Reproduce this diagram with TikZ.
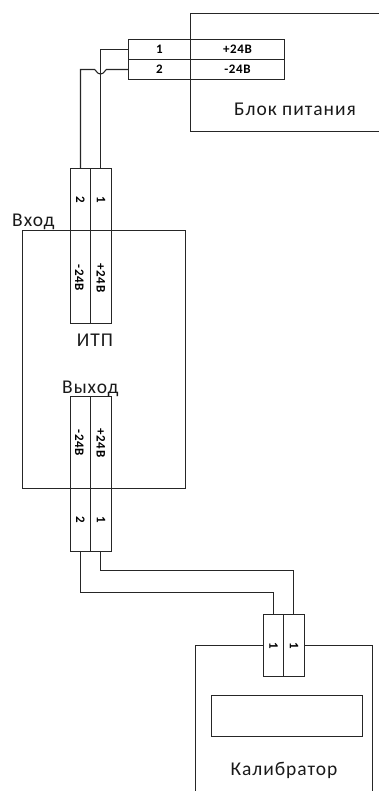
\documentclass[tikz,border=0pt]{standalone}
\usepackage{fontspec}
\setmainfont{Carlito}
\newfontfamily\labfont[LetterSpace=5]{Carlito}
\newfontfamily\pinfont[LetterSpace=5]{Carlito}[BoldFont={Carlito Bold}]
\tikzset{
  ln/.style={line width=1.1pt,draw=black!85},
  cell/.style={ln,rectangle,inner sep=0pt,outer sep=0pt,anchor=north west,font=\pinfont\bfseries\fontsize{13}{15}\selectfont},
  lab/.style={inner sep=0pt,font=\labfont\fontsize{19.5}{22}\selectfont,text=black!90},
  vtxt/.style={inner sep=0pt,rotate=-90,font=\pinfont\bfseries\fontsize{13}{15}\selectfont},
}
\begin{document}
\begin{tikzpicture}[x=1pt,y=-1pt]
\useasboundingbox (0,0) rectangle (379,791);
% device outlines
\draw[ln] (379,13.5) -- (190.5,13.5) -- (190.5,131.5) -- (379,131.5);
\node[ln,rectangle,inner sep=0pt,outer sep=0pt,minimum width=163pt,minimum height=258pt,anchor=north west] (itp) at (22.5,230.5) {};
\draw[ln] (195.5,791) -- (195.5,645.5) -- (372.5,645.5) -- (372.5,791);
\node[ln,rectangle,inner sep=0pt,outer sep=0pt,minimum width=151pt,minimum height=41pt,anchor=north west] (disp) at (211.5,695.5) {};
% power supply terminal
\node[cell,minimum width=62pt,minimum height=20pt] (p1) at (128.5,39.5) {1};
\node[cell,minimum width=94pt,minimum height=20pt] (pv1) at (190.5,39.5) {+24В};
\node[cell,minimum width=62pt,minimum height=20pt] (p2) at (128.5,59.5) {2};
\node[cell,minimum width=94pt,minimum height=20pt] (pv2) at (190.5,59.5) {-24В};
% ITP input
\node[cell,minimum width=20pt,minimum height=62pt] (a2) at (70.5,168.5) {};
\node[cell,minimum width=21pt,minimum height=62pt] (a1) at (90.5,168.5) {};
\node[cell,minimum width=20pt,minimum height=93pt] (av2) at (70.5,230.5) {};
\node[cell,minimum width=21pt,minimum height=93pt] (av1) at (90.5,230.5) {};
\node[vtxt] at (a2) {2};
\node[vtxt] at (a1) {1};
\node[vtxt] at (79.5,278) {-24В};
\node[vtxt] at (101,278) {+24В};
% ITP output
\node[cell,minimum width=20pt,minimum height=92pt] (bv2) at (70.5,396.5) {};
\node[cell,minimum width=21pt,minimum height=92pt] (bv1) at (90.5,396.5) {};
\node[cell,minimum width=20pt,minimum height=63pt] (b2) at (70.5,488.5) {};
\node[cell,minimum width=21pt,minimum height=63pt] (b1) at (90.5,488.5) {};
\node[vtxt] at (b2) {2};
\node[vtxt] at (b1) {1};
\node[vtxt] at (79.5,443) {-24В};
\node[vtxt] at (101,443) {+24В};
% calibrator terminal
\node[cell,fill=white,minimum width=20pt,minimum height=62pt] (c1) at (263.5,614.5) {};
\node[cell,fill=white,minimum width=21pt,minimum height=62pt] (c2) at (283.5,614.5) {};
\node[vtxt] at (c1) {1};
\node[vtxt] at (c2) {1};
% helper points
\coordinate (a1t) at ([xshift=-.5pt]a1.north);
\coordinate (b1b) at ([xshift=-.5pt]b1.south);
\coordinate (c2t) at ([xshift=-.5pt]c2.north);
\coordinate (hopA) at (a1t |- p2.west);
% wires
\draw[ln] (p1.west) -| (a1t);
\draw[ln] (p2.west) -- ([xshift=6pt]hopA)
  .. controls ([xshift=4.5pt,yshift=-0.5pt]hopA) and ([xshift=3.5pt,yshift=-4.5pt]hopA) .. ([yshift=-4.5pt]hopA)
  .. controls ([xshift=-3.5pt,yshift=-4.5pt]hopA) and ([xshift=-4.5pt,yshift=-0.5pt]hopA) .. ([xshift=-6pt]hopA)
  -| (a2.north);
\coordinate (b2low) at (80.5,592.5);
\coordinate (b1low) at (100.5,570.5);
\draw[ln] (b2.south) -- (b2low) -| (c1.north);
\draw[ln] (b1b) -- (b1low) -| (c2t);
% labels
\node[lab] (lpw) at (295,109) {Блок питания};
\node[lab,anchor=base west] (lin) at (12,227) {Вход};
\node[lab] (litp) at (95,340) {ИТП};
\node[lab,anchor=base west] (lout) at (62,393) {Выход};
\node[lab] (lcal) at (284,770) {Калибратор};
\end{tikzpicture}
\end{document}
